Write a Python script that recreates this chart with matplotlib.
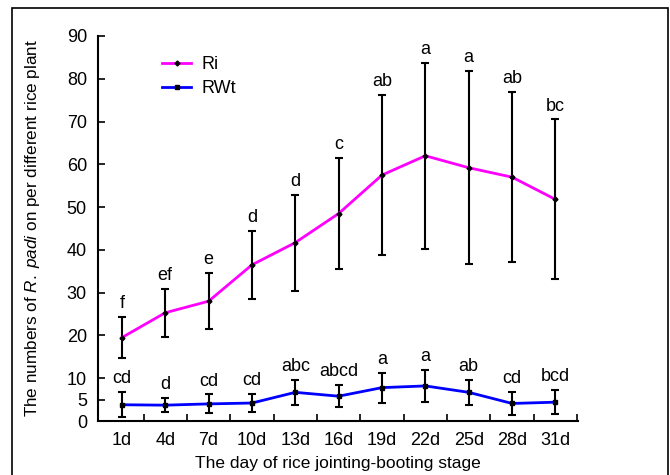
import matplotlib
matplotlib.use("Agg")
import matplotlib.pyplot as plt
from matplotlib.patches import Rectangle
from matplotlib.lines import Line2D
import numpy as np

plt.rcParams['font.family'] = ['Liberation Sans', 'DejaVu Sans']
plt.rcParams['mathtext.fontset'] = 'custom'
plt.rcParams['mathtext.rm'] = 'Liberation Sans'
plt.rcParams['mathtext.it'] = 'Liberation Sans:italic'

days = ['1d', '4d', '7d', '10d', '13d', '16d', '19d', '22d', '25d', '28d', '31d']
ri_mean = [19.5, 25.3, 28.0, 36.5, 41.7, 48.5, 57.5, 62.0, 59.2, 57.0, 51.8]
ri_err = [4.8, 5.6, 6.6, 8.0, 11.2, 13.0, 18.7, 21.8, 22.6, 19.9, 18.7]
ri_letters = ['f', 'ef', 'e', 'd', 'd', 'c', 'ab', 'a', 'a', 'ab', 'bc']
rwt_mean = [3.8, 3.7, 4.0, 4.2, 6.7, 5.8, 7.8, 8.2, 6.7, 4.1, 4.4]
rwt_err = [2.9, 1.7, 2.2, 2.2, 3.0, 2.6, 3.5, 3.7, 2.9, 2.7, 2.8]
rwt_letters = ['cd', 'd', 'cd', 'cd', 'abc', 'abcd', 'a', 'a', 'ab', 'cd', 'bcd']
yticks = [0, 5, 10, 20, 30, 40, 50, 60, 70, 80, 90]

FS = 13

fig = plt.figure(figsize=(6.7, 4.75), dpi=100)
ax = fig.add_axes([98/670, 1-421/475, (578-98)/670, (421-36)/475])

x = np.arange(len(days))
ax.errorbar(x, ri_mean, yerr=ri_err, color='#FF00FF', lw=2, marker='D', ms=2.5,
            mfc='black', mec='black', ecolor='black', elinewidth=1.5, capsize=3,
            capthick=1.5, zorder=3)
ax.errorbar(x, rwt_mean, yerr=rwt_err, color='#0000FF', lw=2, marker='s', ms=3.5,
            mfc='black', mec='black', ecolor='black', elinewidth=1.5, capsize=3,
            capthick=1.5, zorder=3)

for xi, m, e, t in zip(x, ri_mean, ri_err, ri_letters):
    ax.annotate(t, (xi, m + e), xytext=(0, 3.5), textcoords='offset points',
                ha='center', va='bottom', fontsize=FS)
for xi, m, e, t in zip(x, rwt_mean, rwt_err, rwt_letters):
    ax.annotate(t, (xi, m + e), xytext=(0, 3.5), textcoords='offset points',
                ha='center', va='bottom', fontsize=FS)

ax.set_xlim(-0.55, 10.52)
ax.set_ylim(0, 90)
ax.set_yticks(yticks)
ax.set_xticks(x)
ax.set_xticklabels(days)
ax.tick_params(axis='x', length=0, labelsize=FS, pad=8)
ax.set_xticks(np.arange(0.5, 11, 1), minor=True)
ax.tick_params(axis='x', which='minor', direction='in', length=5, width=1.2)
ax.tick_params(axis='y', direction='in', length=5, width=1.2, labelsize=FS, pad=8)
for s in ['top', 'right']:
    ax.spines[s].set_visible(False)
for s in ['left', 'bottom']:
    ax.spines[s].set_linewidth(1.5)

ax.set_xlabel('The day of rice jointing-booting stage', fontsize=12.5, labelpad=5)
ax.set_ylabel(r'The numbers of $\mathit{R.\ padi}$ on per different rice plant',
              fontsize=12.3, labelpad=18)

handles = [Line2D([], [], color='#FF00FF', lw=2, marker='D', ms=2.5, mfc='black', mec='black'),
           Line2D([], [], color='#0000FF', lw=2, marker='s', ms=3.5, mfc='black', mec='black')]
ax.legend(handles, ['Ri', 'RWt'], loc='upper left', bbox_to_anchor=(0.1, 0.99),
          frameon=False, fontsize=FS, handlelength=1.6, labelspacing=0.4,
          handletextpad=0.6)

fig.patches.append(Rectangle((12/670, -0.1), (668-12)/670, 1.1 - 8/475,
                             transform=fig.transFigure, fill=False,
                             edgecolor='black', lw=1.2))

fig.savefig('out.png', dpi=100)
